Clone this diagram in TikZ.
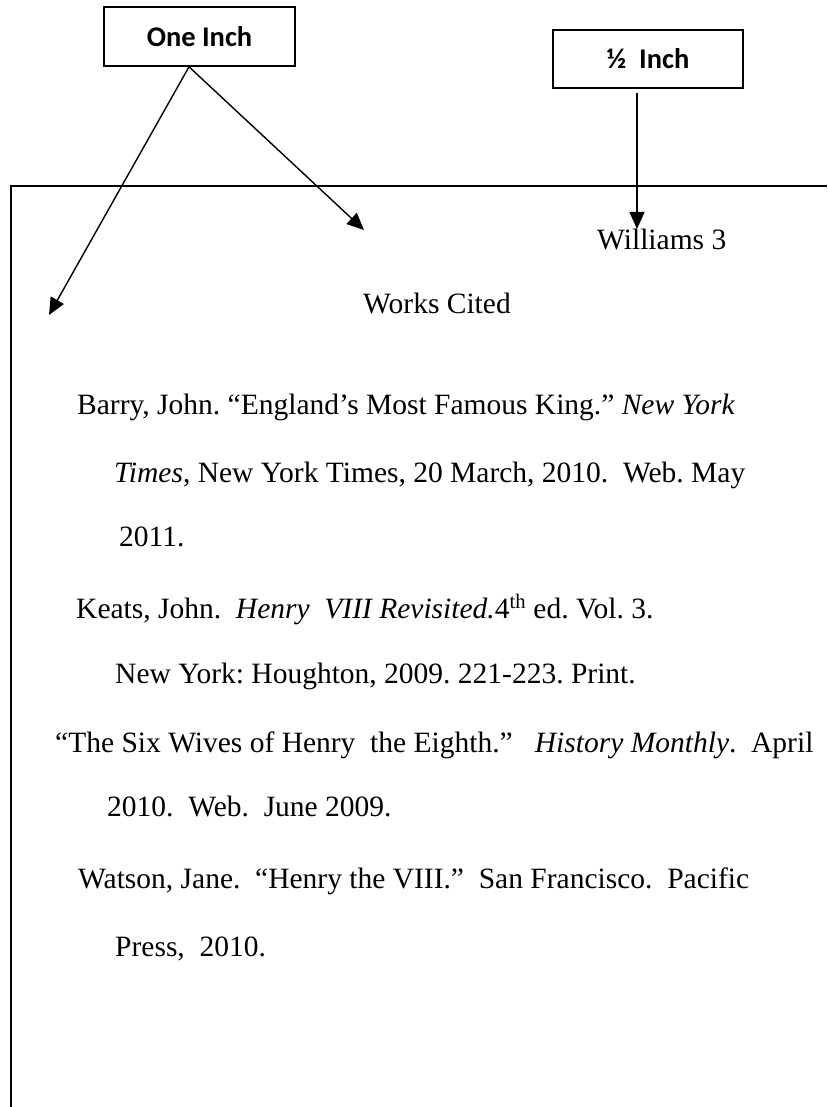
\documentclass[tikz,border=0pt]{standalone}
\usepackage{fontspec}
\setmainfont{Liberation Serif}
\newfontfamily\labelfont{Carlito}
\usetikzlibrary{arrows.meta}
\frenchspacing
\tikzset{
  labelbox/.style={draw, line width=1.6pt, minimum width=191pt, minimum height=59pt, inner sep=0pt, font=\labelfont\bfseries\fontsize{28.5}{34}\selectfont},
  txt/.style={anchor=base west, inner sep=0pt, font=\fontsize{29.5}{35}\selectfont},
  arr/.style={line width=1.4pt, -{Triangle[length=17pt,width=15pt]}},
  pageedge/.style={line width=1.6pt}
}
\begin{document}
\begin{tikzpicture}[x=1pt,y=-1pt]
\useasboundingbox (0,0) rectangle (827,1107);
% page edge
\draw[pageedge] (11,1107) |- (827,186);
% label boxes
\node[labelbox] (oneinch) at (199.5,36.5) {One Inch};
\node[labelbox, minimum width=190pt, minimum height=58pt] (halfinch) at (648,59) {½~ Inch};
% text
\node[txt] (williams) at (597,250) {Williams 3};
\node[txt] (works) at (363,313) {Works Cited};
\node[txt] (l1) at (77,414) {Barry, John. “England’s Most Famous King.” \textit{New York}};
\node[txt] (l2) at (114,482) {\textit{Times}, New York Times, 20 March, 2010.~ Web. May};
\node[txt] (l3) at (119,546) {2011.};
\node[txt] (l4) at (76,618) {Keats, John.~ \textit{Henry~ VIII Revisited.}4\textsuperscript{th} ed. Vol. 3.};
\node[txt] (l5) at (115,683) {New York: Houghton, 2009. 221-223. Print.};
\node[txt] (l6) at (55,752) {“The Six Wives of Henry~ the Eighth.”~~ \textit{History Monthly}.~ April};
\node[txt] (l7) at (107,816) {2010.~ Web.~ June 2009.};
\node[txt] (l8) at (78,888) {Watson, Jane.~ “Henry the VIII.”~ San Francisco.~ Pacific};
\node[txt] (l9) at (115,956) {Press,~ 2010.};
% arrows
\coordinate (s1) at ([xshift=-10.5pt]oneinch.south);
\coordinate (t1) at (49,315);
\coordinate (t2) at (364,230);
\coordinate (s2) at ([xshift=-11pt,yshift=-4pt]halfinch.south);
\coordinate (t3) at (s2 |- 0,229);
\draw[arr] (s1) -- (t1);
\draw[arr] (s1) -- (t2);
\draw[arr] (s2) -- (t3);
\end{tikzpicture}
\end{document}
